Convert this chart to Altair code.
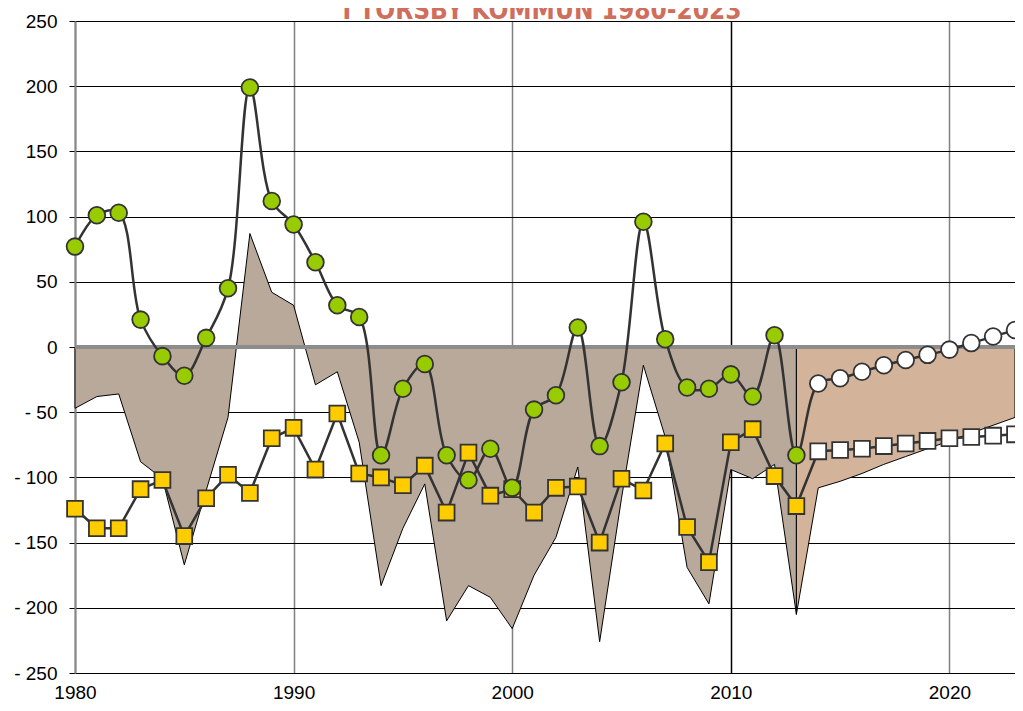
import altair as alt
import pandas as pd

# ---- data ----
years_hist = list(range(1980, 2014))
years_fc = list(range(2014, 2024))

births_hist = [77, 101, 103, 21, -7, -22, 7, 45, 199, 112, 94, 65, 32, 23, -83, -32, -13,
               -83, -102, -78, -108, -48, -37, 15, -76, -27, 96, 6, -31, -32, -21, -38, 9, -83]
migr_hist = [-124, -139, -139, -109, -102, -145, -116, -98, -112, -70, -62, -94, -51, -97, -100,
             -106, -91, -127, -81, -114, -109, -127, -108, -107, -150, -101, -110, -74, -138,
             -165, -73, -63, -99, -122]
total_hist = [-47, -38, -36, -88, -101, -167, -110, -54, 87, 42, 32, -29, -19, -73, -183, -139,
              -105, -210, -183, -192, -216, -175, -146, -92, -226, -116, -14, -69, -169, -197,
              -94, -101, -90, -205]

births_fc = [-28, -24, -19, -14, -10, -6, -2, 3, 8, 13]
migr_fc = [-80, -79, -78, -76, -74, -72, -70, -69, -68, -67]
total_fc_years = [2013] + years_fc
total_fc = [-205, -108, -103, -97, -90, -84, -78, -72, -66, -60, -54]

title_text = "I TORSBY KOMMUN 1980-2023"
y_ticks = [-250, -200, -150, -100, -50, 0, 50, 100, 150, 200, 250]
x_ticks = [1980, 1990, 2000, 2010, 2020]

# ---- tables ----
df_area_hist = pd.DataFrame({"year": years_hist, "v": total_hist})
df_area_fc = pd.DataFrame({"year": total_fc_years, "v": total_fc})
df_circ = pd.DataFrame({"year": years_hist + years_fc, "v": births_hist + births_fc,
                        "kind": ["hist"] * len(years_hist) + ["fc"] * len(years_fc)})
df_sq = pd.DataFrame({"year": years_hist + years_fc, "v": migr_hist + migr_fc,
                      "kind": ["hist"] * len(years_hist) + ["fc"] * len(years_fc)})

FONT = "Liberation Sans"
W, H = 940, 652

xscale = alt.Scale(domain=[1980, 2023], nice=False, zero=False)
yscale = alt.Scale(domain=[-250, 250], nice=False)

x_axis = alt.Axis(values=x_ticks, format="d", title=None, domain=False, ticks=False,
                  labelFont=FONT, labelFontSize=19, labelColor="black", labelPadding=10,
                  labelFlush=False, grid=True, gridWidth=1.5,
                  gridColor={"condition": {"test": "datum.value == 2010", "value": "#000000"},
                             "value": "#808080"})
y_axis = alt.Axis(values=y_ticks, title=None, labelFont=FONT, labelFontSize=19,
                  labelColor="black", labelPadding=12, tickSize=6, tickColor="#000000",
                  tickWidth=1, domainColor="#888888", domainWidth=2,
                  gridColor="#000000", gridWidth=1,
                  labelExpr="datum.value < 0 ? '- ' + (-datum.value) : datum.label")

X = alt.X("year:Q", scale=xscale, axis=x_axis)
Y = alt.Y("v:Q", scale=yscale, axis=y_axis)
Xn = alt.X("year:Q", scale=xscale)
Yn = alt.Y("v:Q", scale=yscale)

area_hist = alt.Chart(df_area_hist).mark_area(
    color="#B9A99B", stroke="#000000", strokeWidth=1, interpolate="linear"
).encode(x=X, y=Y, y2=alt.datum(0))

area_fc = alt.Chart(df_area_fc).mark_area(
    color="#D3B49A", stroke="#000000", strokeWidth=1, interpolate="linear"
).encode(x=Xn, y=Yn, y2=alt.datum(0))

zero = alt.Chart(df_area_hist).mark_rule(color="#8C8C8C", strokeWidth=3).encode(
    y=alt.datum(0)
)

line_c = alt.Chart(df_circ).mark_line(
    color="#333333", strokeWidth=2.5, interpolate="catmull-rom"
).encode(x=Xn, y=Yn)

line_s = alt.Chart(df_sq).mark_line(color="#333333", strokeWidth=2.5).encode(x=Xn, y=Yn)

pts_sq_h = alt.Chart(df_sq).transform_filter("datum.kind == 'hist'").mark_point(
    shape="square", filled=True, fill="#FFCC00", stroke="#333333", strokeWidth=1.8,
    size=250, opacity=1
).encode(x=Xn, y=Yn)
pts_sq_f = alt.Chart(df_sq).transform_filter("datum.kind == 'fc'").mark_point(
    shape="square", filled=True, fill="#FFFFFF", stroke="#333333", strokeWidth=1.8,
    size=250, opacity=1
).encode(x=Xn, y=Yn)
pts_c_h = alt.Chart(df_circ).transform_filter("datum.kind == 'hist'").mark_point(
    shape="circle", filled=True, fill="#99CC00", stroke="#333333", strokeWidth=1.8,
    size=280, opacity=1
).encode(x=Xn, y=Yn)
pts_c_f = alt.Chart(df_circ).transform_filter("datum.kind == 'fc'").mark_point(
    shape="circle", filled=True, fill="#FFFFFF", stroke="#333333", strokeWidth=1.8,
    size=280, opacity=1
).encode(x=Xn, y=Yn)

title = alt.Chart(pd.DataFrame({"t": [title_text]})).mark_text(
    font="DejaVu Sans Condensed, DejaVu Sans, sans-serif", fontSize=26, fontWeight="bold",
    color="#D06D5B", align="center", baseline="alphabetic"
).encode(text="t:N", x=alt.value(W / 2 - 3), y=alt.value(-2))

chart = alt.layer(
    area_hist, area_fc, zero, line_s, line_c, pts_sq_h, pts_sq_f, pts_c_h, pts_c_f, title
).properties(
    width=W, height=H,
    autosize=alt.AutoSizeParams(type="none"),
    padding={"left": 67, "top": 13, "right": 0, "bottom": 30},
).configure_view(stroke="#808080", strokeWidth=1.5).configure(background="white")

chart.save("out.html", embed_options={"renderer": "svg", "actions": False})
